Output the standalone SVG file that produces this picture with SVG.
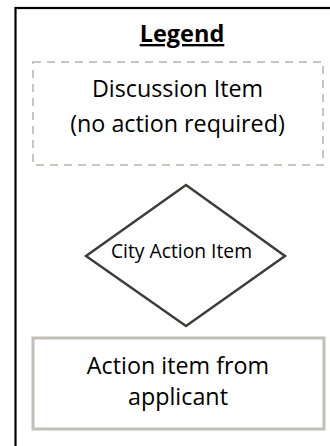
<svg xmlns="http://www.w3.org/2000/svg" width="330" height="446" viewBox="0 0 330 446">
<style>
text{font-family:"Open Sans","DejaVu Sans",sans-serif;fill:#000;text-anchor:middle}
.t{font-size:23.3px}
.s{font-size:19.3px}
</style>
<rect width="330" height="446" fill="#fff"/>
<g id="legend-frame">
<rect x="15.5" y="8" width="340" height="460" fill="none" stroke="#000" stroke-width="2.2"/>
<text x="182" y="42" font-size="23.5" font-weight="bold" text-decoration="underline">Legend</text>
</g>
<g id="discussion-item">
<rect x="33" y="62" width="290" height="103" fill="none" stroke="#c8c6bd" stroke-width="2" stroke-dasharray="8,6"/>
<text class="t" x="177.5" y="97">Discussion Item</text>
<text class="t" x="177.5" y="132">(no action required)</text>
</g>
<g id="city-action-item">
<polygon points="186,185 285,256 186,326 86,256" fill="#fff" stroke="#3f3d38" stroke-width="2.5"/>
<text class="s" x="181.5" y="258">City Action Item</text>
</g>
<g id="applicant-action-item">
<rect x="33" y="338" width="291" height="91" fill="#fff" stroke="#c2c0b6" stroke-width="3"/>
<text class="t" x="178" y="374">Action item from</text>
<text class="t" x="178" y="405">applicant</text>
</g>
<g id="connectors"/>
</svg>
